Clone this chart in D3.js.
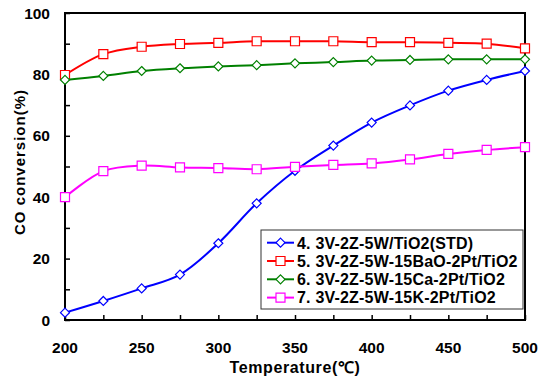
<!DOCTYPE html>
<html>
<head>
<meta charset="utf-8">
<script src="https://cdn.jsdelivr.net/npm/d3@7"></script>
<style>
  body { margin: 0; background: #fff; }
  svg { display: block; font-family: "Liberation Sans", Arial, sans-serif; font-weight: bold; }
</style>
</head>
<body>
<svg width="544" height="377"></svg>
<script>
"use strict";

// temperatures (°C)
const temps = [200, 225, 250, 275, 300, 325, 350, 375, 400, 425, 450, 475, 500];

// CO conversion (%) per catalyst
const stdW = [2.4, 6.2, 10.3, 14.8, 25.0, 38.0, 48.6, 56.8, 64.3, 69.9, 74.7, 78.2, 81.1];
const baO = [79.8, 86.6, 89.0, 89.9, 90.3, 90.8, 90.8, 90.8, 90.5, 90.5, 90.3, 90.0, 88.5];
const caO = [78.2, 79.5, 81.1, 82.0, 82.6, 83.0, 83.6, 84.0, 84.5, 84.7, 84.9, 84.9, 84.9];
const kO = [40.0, 48.5, 50.3, 49.7, 49.5, 49.1, 49.9, 50.5, 51.0, 52.3, 54.1, 55.4, 56.3];

const names = [
  "4. 3V-2Z-5W/TiO2(STD)",
  "5. 3V-2Z-5W-15BaO-2Pt/TiO2",
  "6. 3V-2Z-5W-15Ca-2Pt/TiO2",
  "7. 3V-2Z-5W-15K-2Pt/TiO2"
];
const colors = ["#0000ff", "#ff0000", "#008000", "#ff00ff"];
const shapes = ["diamond", "square", "diamond", "square"];

const xTicks = [200, 250, 300, 350, 400, 450, 500];
const yTicks = [0, 20, 40, 60, 80, 100];

const series = [stdW, baO, caO, kO].map((vals, i) => ({
  name: names[i],
  color: colors[i],
  shape: shapes[i],
  points: vals.map((v, j) => ({ t: temps[j], v: v }))
}));

/////////////////////////////////////////////
// scales and frame
/////////////////////////////////////////////
const svg = d3.select("svg");
const m = { left: 65, right: 525, top: 13, bottom: 320 };

const x = d3.scaleLinear().domain([200, 500]).range([m.left, m.right]);
const y = d3.scaleLinear().domain([0, 100]).range([m.bottom, m.top]);

// minor ticks (inside)
svg.append("g")
  .attr("transform", `translate(0,${m.bottom})`)
  .call(d3.axisBottom(x).tickValues(d3.range(200, 501, 25)).tickSize(-5).tickFormat(""))
  .call(g => g.select(".domain").remove())
  .call(g => g.selectAll("line").attr("stroke", "#000").attr("stroke-width", 1.5));

svg.append("g")
  .attr("transform", `translate(${m.left},0)`)
  .call(d3.axisLeft(y).tickValues(d3.range(0, 101, 10)).tickSize(-5).tickFormat(""))
  .call(g => g.select(".domain").remove())
  .call(g => g.selectAll("line").attr("stroke", "#000").attr("stroke-width", 1.5));

// tick labels
svg.append("g")
  .selectAll("text")
  .data(xTicks)
  .enter()
  .append("text")
  .attr("x", (d) => x(d))
  .attr("y", 353)
  .attr("text-anchor", "middle")
  .attr("font-size", 15.5)
  .text((d) => d);

svg.append("g")
  .selectAll("text")
  .data(yTicks)
  .enter()
  .append("text")
  .attr("x", 50)
  .attr("y", (d) => y(d) + 5.5)
  .attr("text-anchor", "end")
  .attr("font-size", 15.5)
  .text((d) => d);

// frame
svg.append("rect")
  .attr("x", m.left)
  .attr("y", m.top)
  .attr("width", m.right - m.left)
  .attr("height", m.bottom - m.top)
  .attr("fill", "none")
  .attr("stroke", "#000")
  .attr("stroke-width", 2);

// axis titles
svg.append("text")
  .attr("transform", "translate(25,162) rotate(-90)")
  .attr("text-anchor", "middle")
  .attr("font-size", 15)
  .attr("letter-spacing", 1)
  .text("CO conversion(%)");

svg.append("text")
  .attr("x", 295)
  .attr("y", 373)
  .attr("text-anchor", "middle")
  .attr("font-size", 16)
  .attr("letter-spacing", 0.6)
  .text("Temperature(℃)");

/////////////////////////////////////////////
// lines and markers
/////////////////////////////////////////////
const line = d3.line()
  .x((d) => x(d.t))
  .y((d) => y(d.v))
  .curve(d3.curveCatmullRom.alpha(0.5));

const diamond = (s) => `M0,${-s}L${s},0L0,${s}L${-s},0Z`;
const square = (s) => `M${-s},${-s}H${s}V${s}H${-s}Z`;
const marker = (shape) => (shape === "diamond" ? diamond(4.5) : square(4.5));

const groups = svg.append("g")
  .selectAll("g")
  .data(series)
  .enter()
  .append("g");

groups.append("path")
  .attr("d", (d) => line(d.points))
  .attr("fill", "none")
  .attr("stroke", (d) => d.color)
  .attr("stroke-width", 2);

groups.each(function (s) {
  d3.select(this)
    .selectAll(".mk")
    .data(s.points)
    .enter()
    .append("path")
    .attr("class", "mk")
    .attr("transform", (d) => `translate(${x(d.t)},${y(d.v)})`)
    .attr("d", marker(s.shape))
    .attr("fill", "#fff")
    .attr("stroke", s.color)
    .attr("stroke-width", 1.2);
});

/////////////////////////////////////////////
// legend
/////////////////////////////////////////////
const legend = svg.append("g").attr("id", "legend");
legend.append("rect")
  .attr("x", 261)
  .attr("y", 230)
  .attr("width", 262)
  .attr("height", 79)
  .attr("fill", "#fff")
  .attr("stroke", "#333")
  .attr("stroke-width", 1);

const rows = legend.selectAll(".row")
  .data(series)
  .enter()
  .append("g")
  .attr("class", "row")
  .attr("transform", (d, i) => `translate(0,${242.7 + i * 18.3})`);

rows.append("line")
  .attr("x1", 267)
  .attr("x2", 294)
  .attr("stroke", (d) => d.color)
  .attr("stroke-width", 2);

rows.append("path")
  .attr("transform", "translate(280.5,0)")
  .attr("d", (d) => marker(d.shape))
  .attr("fill", "#fff")
  .attr("stroke", (d) => d.color)
  .attr("stroke-width", 1.2);

rows.append("text")
  .attr("x", 297)
  .attr("y", 5.8)
  .attr("font-size", 16)
  .attr("letter-spacing", 0.2)
  .text((d) => d.name);
</script>
</body>
</html>
